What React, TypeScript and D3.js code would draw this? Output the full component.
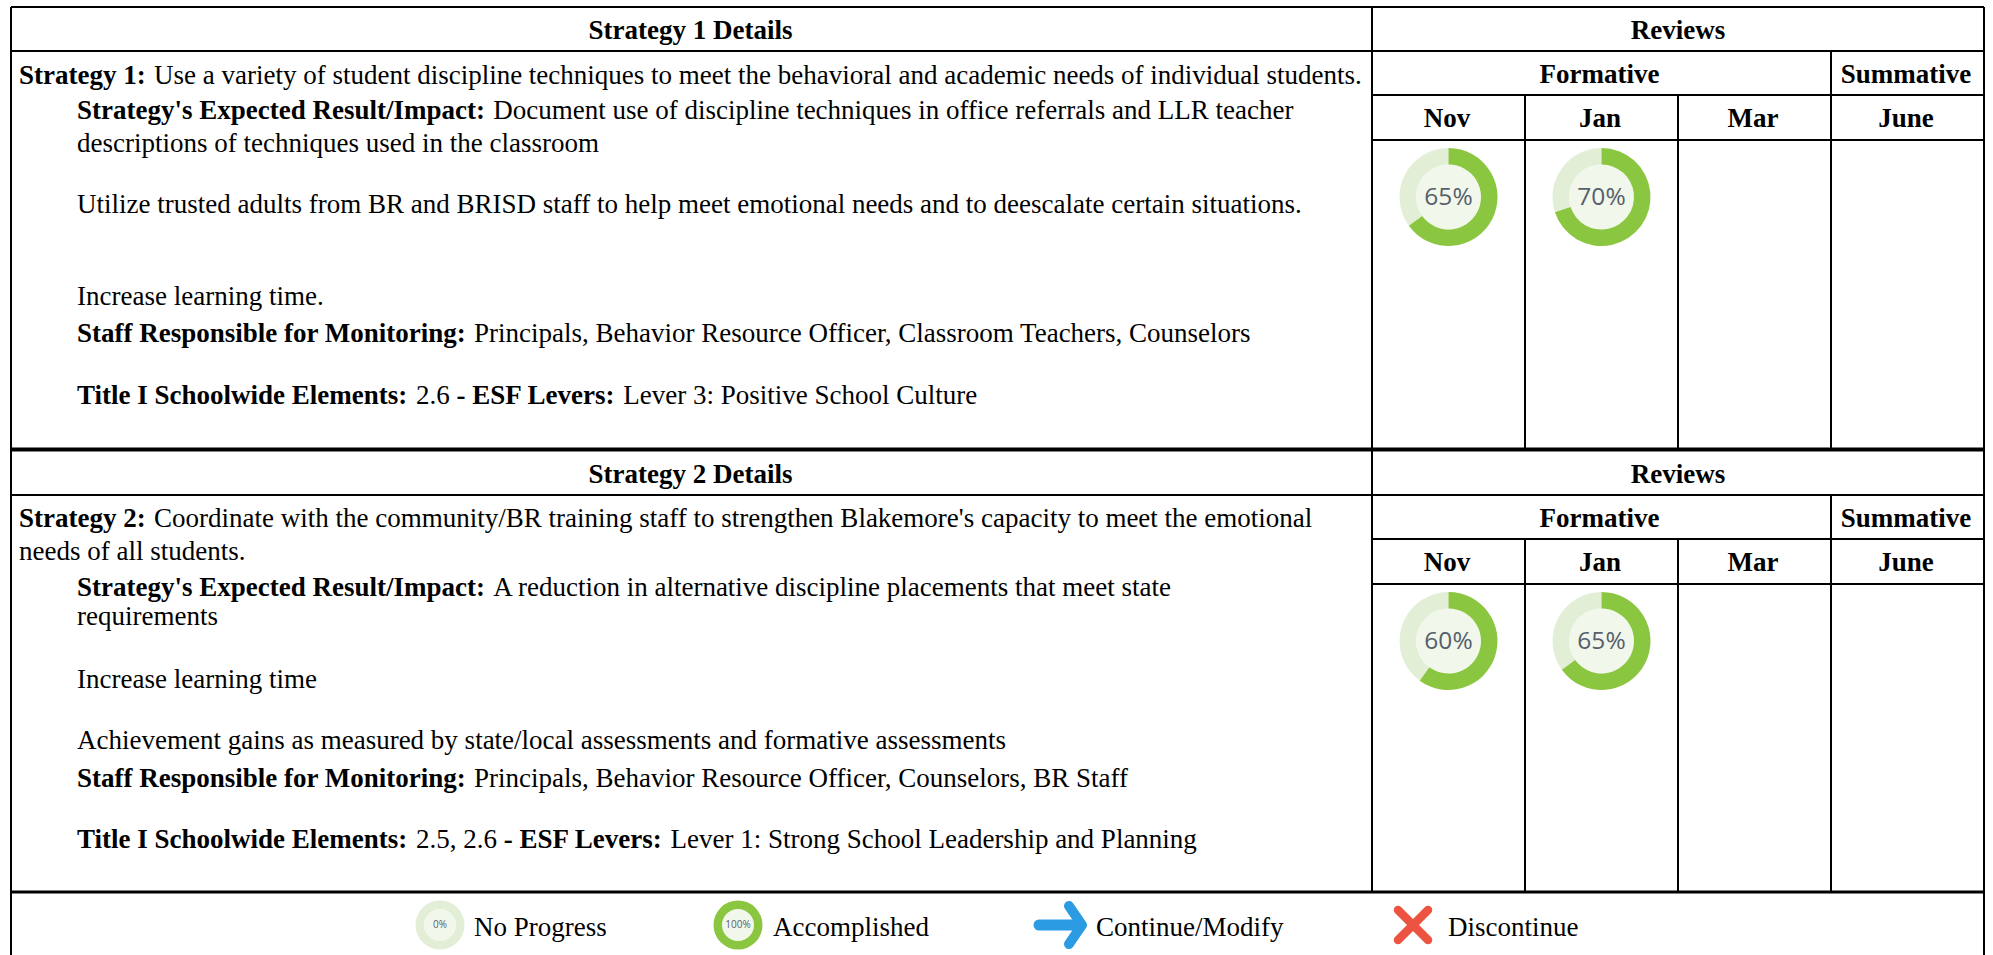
import React from 'react';
import * as d3 from 'd3';

const months = ['Nov', 'Jan', 'Mar', 'June'];
const strategyOneReviews = [65, 70, null, null];
const strategyTwoReviews = [60, 65, null, null];

// each line: [bold part, regular part]
const strategyOneLines = [
    ['Strategy 1:', 'Use a variety of student discipline techniques to meet the behavioral and academic needs of individual students.'],
    ["Strategy's Expected Result/Impact:", 'Document use of discipline techniques in office referrals and LLR teacher'],
    ['', 'descriptions of techniques used in the classroom'],
    ['', 'Utilize trusted adults from BR and BRISD staff to help meet emotional needs and to deescalate certain situations.'],
    ['', 'Increase learning time.'],
    ['Staff Responsible for Monitoring:', 'Principals, Behavior Resource Officer, Classroom Teachers, Counselors'],
];
const strategyTwoLines = [
    ['Strategy 2:', "Coordinate with the community/BR training staff to strengthen Blakemore's capacity to meet the emotional"],
    ['', 'needs of all students.'],
    ["Strategy's Expected Result/Impact:", 'A reduction in alternative discipline placements that meet state'],
    ['', 'requirements'],
    ['', 'Increase learning time'],
    ['', 'Achievement gains as measured by state/local assessments and formative assessments'],
    ['Staff Responsible for Monitoring:', 'Principals, Behavior Resource Officer, Counselors, BR Staff'],
];
const strategyOneElements = ['2.6', 'Lever 3: Positive School Culture'];
const strategyTwoElements = ['2.5, 2.6', 'Lever 1: Strong School Leadership and Planning'];

const legendLabels = ['No Progress', 'Accomplished', 'Continue/Modify', 'Discontinue'];

const W = 1993, H = 955;
const LEFT = 11, SPLIT = 1372, RIGHT = 1984, TOP = 7;
const SERIF = '"Liberation Serif", "Times New Roman", serif';
const FS = 27;

const monthX = d3.scaleBand<string>().domain(months).range([SPLIT, RIGHT]);
const arcGreen = '#8AC63F', arcTrack = '#E2EFD6', arcCentre = '#F1F7EB';

function Donut({cx, cy, value, r = 49, ir = 32.5, fontSize = 24.5}: any) {
    const pie = d3.pie<number>().sort(null);
    const arc = d3.arc<any>().innerRadius(ir).outerRadius(r);
    const slices = pie([value, 100 - value]);
    return (
        <g transform={`translate(${cx},${cy})`}>
            <circle r={ir} fill={arcCentre}/>
            <path d={arc(slices[1]) as string} fill={arcTrack}/>
            {value > 0 && <path d={arc(slices[0]) as string} fill={arcGreen}/>}
            <text y={fontSize * 0.33} textAnchor="middle" fontFamily='"Open Sans", sans-serif' fontSize={fontSize} fill="#56606B">{value}%</text>
        </g>
    );
}

function Line({x, y, bold, rest}: any) {
    return (
        <text x={x} y={y} fontFamily={SERIF} fontSize={FS} fill="#000" xmlSpace="preserve">
            {bold && <tspan fontWeight="bold">{bold} </tspan>}
            <tspan dx={bold ? 1.5 : 0}>{rest}</tspan>
        </text>
    );
}

function Head({x, y, children}: any) {
    return <text x={x} y={y} textAnchor="middle" fontFamily={SERIF} fontSize={FS} fontWeight="bold" fill="#000">{children}</text>;
}

function Block({top, index, lines, ys, reviews, elements, bottom}: any) {
    const r1 = top + 44, r2 = top + 88, r3 = top + 133;
    const bandW = monthX.bandwidth();
    return (
        <g>
            <g stroke="#000" strokeWidth={2}>
                <line x1={LEFT} x2={RIGHT} y1={r1} y2={r1}/>
                <line x1={SPLIT} x2={RIGHT} y1={r2} y2={r2}/>
                <line x1={SPLIT} x2={RIGHT} y1={r3} y2={r3}/>
                <line x1={SPLIT} x2={SPLIT} y1={top} y2={bottom}/>
                {months.slice(1).map((m, i) => (
                    <line key={m} x1={monthX(m)} x2={monthX(m)} y1={i === 2 ? r1 : r2} y2={bottom}/>
                ))}
            </g>
            <Head x={(LEFT + SPLIT) / 2 - 1} y={top + 32}>{`Strategy ${index} Details`}</Head>
            <Head x={(SPLIT + RIGHT) / 2} y={top + 32}>Reviews</Head>
            <Head x={(SPLIT + (monthX('June') as number)) / 2 - 2} y={top + 76}>Formative</Head>
            <Head x={(monthX('June') as number) + bandW / 2 - 1.5} y={top + 76}>Summative</Head>
            {months.map(m => <Head key={m} x={(monthX(m) as number) + bandW / 2 - 1.5} y={top + 120}>{m}</Head>)}
            {lines.map((l: string[], i: number) => (
                <Line key={i} x={i === 0 || (index === 2 && i === 1) ? 19 : 77} y={top + ys[i]} bold={l[0]} rest={l[1]}/>
            ))}
            <text x={77} y={top + ys[lines.length]} fontFamily={SERIF} fontSize={FS} xmlSpace="preserve">
                <tspan fontWeight="bold">Title I Schoolwide Elements: </tspan>
                <tspan dx={2}>{elements[0]} </tspan>
                <tspan fontWeight="bold">- ESF Levers: </tspan>
                <tspan dx={2}>{elements[1]}</tspan>
            </text>
            {reviews.map((v: number | null, i: number) => v === null ? null : (
                <Donut key={i} cx={(monthX(months[i]) as number) + 76.5} cy={top + 190} value={v}/>
            ))}
        </g>
    );
}

const oneYs = [77, 112, 145, 206, 298, 335, 397];
const twoYs = [76, 109, 145, 174, 237, 298, 336, 397];

export default function App() {
    const legendY = 936;
    return (
        <svg width={W} height={H} viewBox={`0 0 ${W} ${H}`} style={{position: 'absolute', left: 0, top: 0, display: 'block', background: '#fff'}}>
            <Block top={TOP} index={1} lines={strategyOneLines} ys={oneYs} reviews={strategyOneReviews} elements={strategyOneElements} bottom={449}/>
            <Block top={451} index={2} lines={strategyTwoLines} ys={twoYs} reviews={strategyTwoReviews} elements={strategyTwoElements} bottom={892}/>
            <g stroke="#000">
                <line x1={LEFT} x2={RIGHT} y1={TOP} y2={TOP} strokeWidth={2}/>
                <line x1={LEFT} x2={RIGHT} y1={449.5} y2={449.5} strokeWidth={4}/>
                <line x1={LEFT} x2={RIGHT} y1={892} y2={892} strokeWidth={3}/>
                <line x1={LEFT} x2={LEFT} y1={TOP} y2={H} strokeWidth={2}/>
                <line x1={RIGHT} x2={RIGHT} y1={TOP} y2={H} strokeWidth={2}/>
            </g>
            <Donut cx={440} cy={925} value={0} r={24.5} ir={16} fontSize={10}/>
            <Donut cx={738} cy={925} value={100} r={24.5} ir={16} fontSize={10}/>
            <path d="M1039 925H1078" stroke="#2B9CE3" strokeWidth={11} strokeLinecap="round" fill="none"/>
            <path d="M1069 906L1082 925L1069 944" stroke="#2B9CE3" strokeWidth={10} strokeLinecap="round" strokeLinejoin="round" fill="none"/>
            <path d="M1398 910L1428 940M1428 910L1398 940" stroke="#EC5340" strokeWidth={8.5} strokeLinecap="round" fill="none"/>
            {legendLabels.map((t, i) => (
                <text key={t} x={[474, 773, 1096, 1448][i]} y={legendY} fontFamily={SERIF} fontSize={FS} fill="#000">{t}</text>
            ))}
        </svg>
    );
}
